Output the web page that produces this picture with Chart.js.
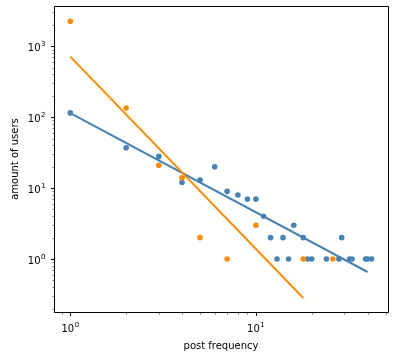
<!DOCTYPE html>
<html>
<head>
<meta charset="utf-8">
<script src="https://cdn.jsdelivr.net/npm/chart.js@4/dist/chart.umd.min.js"></script>
<style>
  html, body { margin: 0; padding: 0; background: #fff; }
  canvas { display: block; }
</style>
</head>
<body>
<canvas id="c" width="397" height="356" style="width:397px;height:356px"></canvas>
<script>
// ---- data ----
const blueX = [1, 2, 3, 4, 5, 6, 7, 8, 9, 10, 11, 12, 13, 14, 15, 16, 18, 19, 20, 24, 28, 29, 32, 33, 39, 40, 42];
const blueY = [115, 37, 28, 12, 13, 20, 9, 8, 7, 7, 4, 2, 1, 2, 1, 3, 2, 1, 1, 1, 1, 2, 1, 1, 1, 1, 1];
const orangeX = [1, 2, 3, 4, 5, 7, 10, 18, 26];
const orangeY = [2250, 135, 21, 14, 2, 1, 3, 1, 1];
const blueFitX = [1, 40];
const blueFitY = [113.8, 0.656];
const orangeFitX = [1, 18];
const orangeFitY = [714, 0.282];
const xMajorTicks = [1, 10];
const xTickExp = ['0', '1'];
const yMajorTicks = [1, 10, 100, 1000];
const yTickExp = ['0', '1', '2', '3'];
const xTitle = 'post frequency';
const yTitle = 'amount of users';

const BLUE = '#4682b4';
const ORANGE = '#ff8c00';

const pts = (xs, ys) => xs.map((x, i) => ({ x: x, y: ys[i] }));

const FONT = '"DejaVu Sans", sans-serif';

const axesPlugin = {
  id: 'mplAxes',
  afterDraw(chart) {
    const ctx = chart.ctx;
    const ca = chart.chartArea;
    const xs = chart.scales.x, ys = chart.scales.y;
    const L = Math.round(ca.left) + 0.5, R = Math.round(ca.right) + 0.5;
    const T = Math.round(ca.top) + 0.5, B = Math.round(ca.bottom) + 0.5;
    ctx.save();
    // frame
    ctx.strokeStyle = '#000';
    ctx.lineWidth = 1;
    ctx.beginPath();
    ctx.rect(L, T, R - L, B - T);
    ctx.stroke();

    // minor ticks
    const minorVals = (lo, hi) => {
      const out = [];
      for (let e = -2; e <= 5; e++) {
        for (let m = 2; m <= 9; m++) {
          const v = m * Math.pow(10, e);
          if (v >= lo && v <= hi) out.push(v);
        }
      }
      return out;
    };
    ctx.lineWidth = 0.7;
    ctx.strokeStyle = '#333';
    ctx.beginPath();
    minorVals(xs.min, xs.max).forEach(v => {
      const px = Math.round(xs.getPixelForValue(v)) + 0.5;
      ctx.moveTo(px, B); ctx.lineTo(px, B + 2);
    });
    minorVals(ys.min, ys.max).forEach(v => {
      const py = Math.round(ys.getPixelForValue(v)) + 0.5;
      ctx.moveTo(L, py); ctx.lineTo(L - 2, py);
    });
    ctx.stroke();

    // major ticks
    ctx.lineWidth = 1;
    ctx.strokeStyle = '#000';
    ctx.beginPath();
    xMajorTicks.forEach(v => {
      const px = Math.round(xs.getPixelForValue(v)) + 0.5;
      ctx.moveTo(px, B); ctx.lineTo(px, B + 3.5);
    });
    yMajorTicks.forEach(v => {
      const py = Math.round(ys.getPixelForValue(v)) + 0.5;
      ctx.moveTo(L, py); ctx.lineTo(L - 3.5, py);
    });
    ctx.stroke();

    // tick labels 10^n
    ctx.fillStyle = '#000';
    ctx.textBaseline = 'alphabetic';
    const baseFont = '10px ' + FONT, supFont = '7px ' + FONT;
    xMajorTicks.forEach((v, i) => {
      const px = xs.getPixelForValue(v);
      ctx.font = baseFont; const w1 = ctx.measureText('10').width;
      ctx.font = supFont; const w2 = ctx.measureText(xTickExp[i]).width;
      const x0 = px - (w1 + w2 + 0.5) / 2;
      ctx.textAlign = 'left';
      ctx.font = baseFont; ctx.fillText('10', x0, 331.5);
      ctx.font = supFont; ctx.fillText(xTickExp[i], x0 + w1 + 0.5, 326.5);
    });
    yMajorTicks.forEach((v, i) => {
      const py = ys.getPixelForValue(v);
      ctx.font = baseFont; const w1 = ctx.measureText('10').width;
      ctx.font = supFont; const w2 = ctx.measureText(yTickExp[i]).width;
      const xr = 45.5;
      const x0 = xr - w2 - 0.5 - w1;
      ctx.textAlign = 'left';
      ctx.font = baseFont; ctx.fillText('10', x0, py + 4.5);
      ctx.font = supFont; ctx.fillText(yTickExp[i], x0 + w1 + 0.5, py - 0.5);
    });

    // axis titles
    ctx.font = '10px ' + FONT;
    ctx.textAlign = 'center';
    ctx.textBaseline = 'alphabetic';
    ctx.fillText(xTitle, (ca.left + ca.right) / 2, 348.5);
    ctx.save();
    ctx.translate(17.5, (ca.top + ca.bottom) / 2);
    ctx.rotate(-Math.PI / 2);
    ctx.fillText(yTitle, 0, 0);
    ctx.restore();
    ctx.restore();
  }
};

new Chart(document.getElementById('c'), {
  type: 'scatter',
  data: {
    datasets: [
      { label: 'orange fit', data: pts(orangeFitX, orangeFitY), showLine: true, borderColor: ORANGE, borderWidth: 2, pointRadius: 0, fill: false, order: 0 },
      { label: 'blue fit', data: pts(blueFitX, blueFitY), showLine: true, borderColor: BLUE, borderWidth: 2, pointRadius: 0, fill: false, order: 1 },
      { label: 'orange', data: pts(orangeX, orangeY), backgroundColor: ORANGE, borderWidth: 0, pointRadius: 2.8, order: 2 },
      { label: 'blue', data: pts(blueX, blueY), backgroundColor: BLUE, borderWidth: 0, pointRadius: 2.8, order: 3 }
    ]
  },
  options: {
    responsive: false,
    animation: false,
    devicePixelRatio: 1,
    layout: { padding: { left: 54, right: 9, top: 6, bottom: 44 } },
    plugins: { legend: { display: false }, tooltip: { enabled: false } },
    scales: {
      x: { type: 'logarithmic', min: 0.817, max: 51.5, bounds: 'data', display: false },
      y: { type: 'logarithmic', min: 0.179, max: 3697, bounds: 'data', display: false }
    }
  },
  plugins: [axesPlugin]
});
</script>
</body>
</html>
